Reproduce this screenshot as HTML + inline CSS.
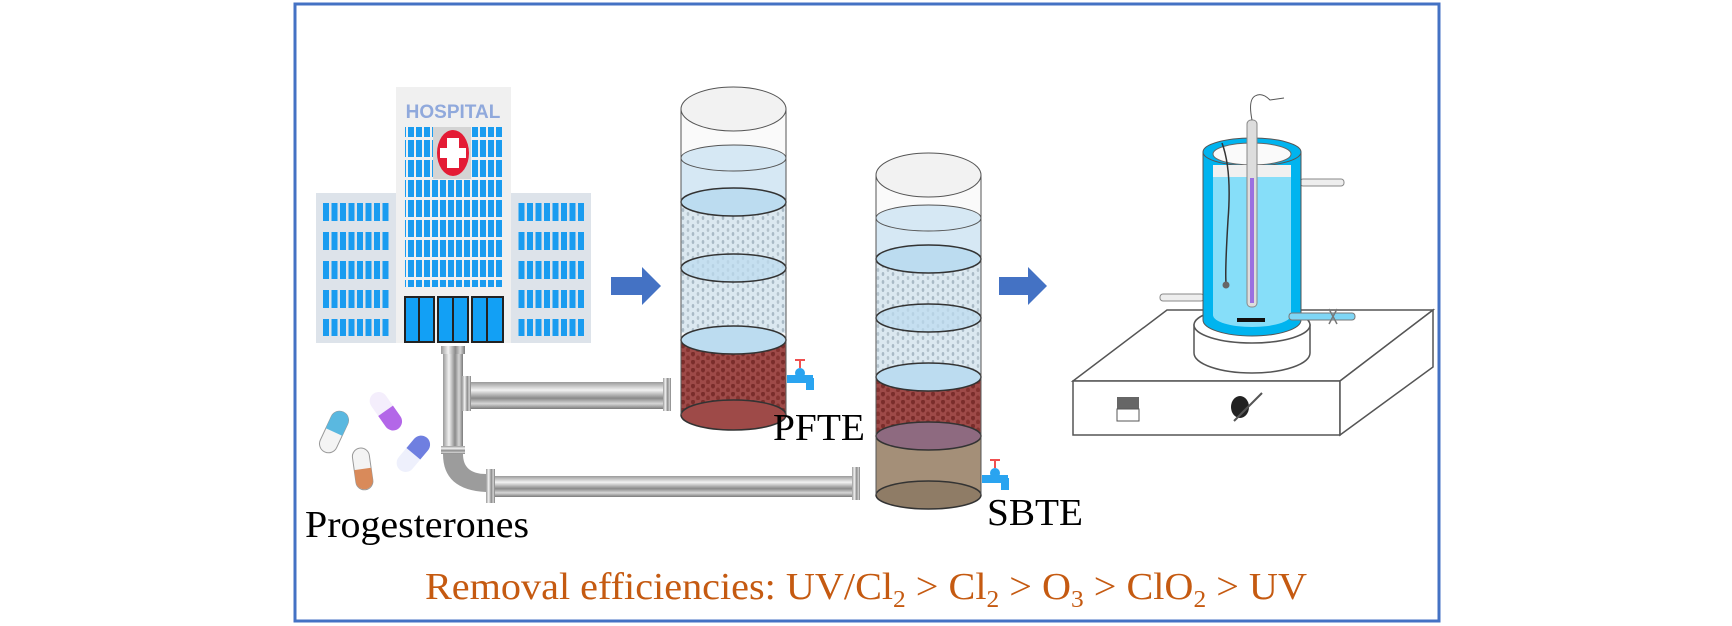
<!DOCTYPE html>
<html><head><meta charset="utf-8"><style>
html,body{margin:0;padding:0;background:#fff;}
svg{display:block;}
text{font-family:"Liberation Serif",serif;}
</style></head><body>
<svg width="1732" height="626" viewBox="0 0 1732 626" xmlns="http://www.w3.org/2000/svg">
<defs>
<pattern id="dots" width="10" height="8" patternUnits="userSpaceOnUse">
<rect width="10" height="8" fill="#dbe8f0"/>
<ellipse cx="3" cy="2" rx="1.3" ry="2" fill="#a9bac6"/><ellipse cx="8" cy="6" rx="1.3" ry="2" fill="#b4c3cd"/>
</pattern>
<pattern id="red" width="10" height="8" patternUnits="userSpaceOnUse">
<rect width="10" height="8" fill="#9e4a48"/>
<ellipse cx="3" cy="2" rx="2" ry="2.5" fill="#7a2d2b"/><ellipse cx="8" cy="6" rx="2" ry="2.5" fill="#843330"/>
</pattern>
<linearGradient id="pipeH" x1="0" y1="0" x2="0" y2="1">
<stop offset="0" stop-color="#9a9a9a"/><stop offset="0.3" stop-color="#f2f2f2"/><stop offset="0.6" stop-color="#8a8a8a"/><stop offset="0.8" stop-color="#d6d6d6"/><stop offset="1" stop-color="#7a7a7a"/>
</linearGradient>
<linearGradient id="pipeV" x1="0" y1="0" x2="1" y2="0">
<stop offset="0" stop-color="#9a9a9a"/><stop offset="0.3" stop-color="#f2f2f2"/><stop offset="0.6" stop-color="#8a8a8a"/><stop offset="0.8" stop-color="#d6d6d6"/><stop offset="1" stop-color="#7a7a7a"/>
</linearGradient>
<pattern id="winS" width="8.5" height="29" patternUnits="userSpaceOnUse"><rect x="0" y="0" width="6" height="18" fill="#1a9cf0"/></pattern>
<pattern id="winC" width="8" height="20" patternUnits="userSpaceOnUse"><rect x="0" y="0" width="6" height="17" fill="#1a9cf0"/></pattern>
</defs>
<rect x="295" y="4" width="1144" height="617" fill="none" stroke="#4472c4" stroke-width="3"/>

<!-- Hospital -->
<rect x="316" y="193" width="80" height="150" fill="#dde3ea"/>
<rect x="511" y="193" width="80" height="150" fill="#dde3ea"/>
<rect x="322" y="200" width="68" height="136" fill="url(#winS)"/>
<rect x="517" y="200" width="68" height="136" fill="url(#winS)"/>
<rect x="396" y="87" width="115" height="256" fill="#f0f0f0"/>
<text x="453" y="118" text-anchor="middle" font-family="Liberation Sans" font-weight="bold" font-size="19" fill="#90a9dc" style="font-family:'Liberation Sans',sans-serif">HOSPITAL</text>
<rect x="405" y="127" width="98" height="160" fill="url(#winC)"/>
<rect x="433" y="127" width="38" height="52" fill="#d4d4d4"/>
<ellipse cx="453" cy="153" rx="16" ry="23" fill="#e41b35"/>
<rect x="447" y="138" width="12" height="30" fill="#fff"/><rect x="440" y="148" width="26" height="10" fill="#fff"/>
<g stroke="#222" stroke-width="2" fill="#12a0f5">
<rect x="405" y="297" width="29" height="45"/><rect x="438" y="297" width="30" height="45"/><rect x="472" y="297" width="31" height="45"/>
</g>
<g stroke="#222" stroke-width="2"><line x1="419" y1="297" x2="419" y2="342"/><line x1="453" y1="297" x2="453" y2="342"/><line x1="487" y1="297" x2="487" y2="342"/></g>

<!-- arrows -->
<path d="M611 277 H642 V267 L661 286 L642 305 V295 H611 Z" fill="#4472c4"/>
<path d="M999 277 H1028 V267 L1047 286 L1028 305 V295 H999 Z" fill="#4472c4"/>

<!-- pipes -->
<rect x="441" y="346" width="24" height="8" fill="url(#pipeV)"/>
<rect x="443" y="354" width="20" height="92" fill="url(#pipeV)"/>
<rect x="441" y="446" width="24" height="8" fill="url(#pipeH)"/>
<path d="M443 454 Q443 490 486 492 L486 474 Q463 474 463 454 Z" fill="#9c9c9c"/>
<rect x="466" y="382" width="205" height="27" fill="url(#pipeH)"/>
<rect x="462" y="376" width="9" height="35" fill="url(#pipeV)"/>
<rect x="663" y="378" width="8" height="33" fill="url(#pipeV)"/>
<rect x="486" y="476" width="374" height="21" fill="url(#pipeH)"/>
<rect x="486" y="469" width="9" height="34" fill="url(#pipeV)"/>
<rect x="852" y="467" width="8" height="33" fill="url(#pipeV)"/>

<!-- pills -->
<g transform="rotate(25 334 432)"><rect x="325" y="410" width="18" height="44" rx="9" fill="#f4f4f4" stroke="#999"/><path d="M325 432 V419 A9 9 0 0 1 343 419 V432 Z" fill="#5ab8e0"/></g>
<g transform="rotate(-35 385 410)"><rect x="376" y="390" width="18" height="42" rx="9" fill="#f4eefc"/><path d="M376 411 V424 A9 9 0 0 0 394 424 V411 Z" fill="#b367e8"/></g>
<g transform="rotate(-8 362 468)"><rect x="354" y="448" width="17" height="42" rx="8.5" fill="#f4f4f4" stroke="#999"/><path d="M354 469 V481 A8.5 8.5 0 0 0 371 481 V469 Z" fill="#d98a5a"/></g>
<g transform="rotate(40 414 453)"><rect x="405" y="433" width="18" height="42" rx="9" fill="#eef0fc"/><path d="M405 454 V442 A9 9 0 0 1 423 442 V454 Z" fill="#6f7fe0"/></g>

<!-- Column 1 -->
<g stroke="#333" stroke-width="1.5">
<rect x="681" y="109" width="105" height="306" fill="#fafafa" stroke="#777" stroke-width="1"/>
<rect x="681" y="158" width="105" height="44" fill="#d6e8f4" stroke="none"/>
<rect x="681" y="202" width="105" height="131" fill="url(#dots)" stroke="none"/>
<rect x="681" y="340" width="105" height="75" fill="url(#red)" stroke="none"/>
<ellipse cx="733.5" cy="415" rx="52.5" ry="15" fill="#9e4a48"/>
<ellipse cx="733.5" cy="340" rx="52.5" ry="14" fill="#bcdcf0"/>
<ellipse cx="733.5" cy="268" rx="52.5" ry="14" fill="#bcdcf0" fill-opacity="0.7"/>
<ellipse cx="733.5" cy="202" rx="52.5" ry="14" fill="#bcdcf0"/>
<ellipse cx="733.5" cy="158" rx="52.5" ry="13" fill="#d6e8f4" stroke="#555" stroke-width="1"/>
<ellipse cx="733.5" cy="109" rx="52.5" ry="22" fill="#f2f2f2" stroke="#555" stroke-width="1"/>
<line x1="681" y1="109" x2="681" y2="415" stroke="#555" stroke-width="1"/><line x1="786" y1="109" x2="786" y2="415" stroke="#555" stroke-width="1"/>
</g>
<g fill="#2aa4f0"><rect x="787" y="375" width="26" height="8"/><circle cx="800" cy="373" r="5"/><rect x="806" y="378" width="8" height="12"/></g>
<path d="M800 360 V368 M795 360 H805" stroke="#f05050" stroke-width="2"/>
<text x="773" y="440" font-size="38" textLength="92" lengthAdjust="spacingAndGlyphs">PFTE</text>

<!-- Column 2 -->
<g stroke="#333" stroke-width="1.5">
<rect x="876" y="175" width="105" height="320" fill="#fafafa" stroke="none"/>
<rect x="876" y="218" width="105" height="41" fill="#d6e8f4" stroke="none"/>
<rect x="876" y="259" width="105" height="118" fill="url(#dots)" stroke="none"/>
<rect x="876" y="377" width="105" height="59" fill="url(#red)" stroke="none"/>
<rect x="876" y="436" width="105" height="59" fill="#a48f78" stroke="none"/>
<ellipse cx="928.5" cy="495" rx="52.5" ry="14" fill="#8f7c66"/>
<ellipse cx="928.5" cy="436" rx="52.5" ry="14" fill="#8e6a80"/>
<ellipse cx="928.5" cy="377" rx="52.5" ry="14" fill="#bcdcf0"/>
<ellipse cx="928.5" cy="318" rx="52.5" ry="14" fill="#bcdcf0" fill-opacity="0.7"/>
<ellipse cx="928.5" cy="259" rx="52.5" ry="14" fill="#bcdcf0"/>
<ellipse cx="928.5" cy="218" rx="52.5" ry="13" fill="#d6e8f4" stroke="#555" stroke-width="1"/>
<ellipse cx="928.5" cy="175" rx="52.5" ry="22" fill="#f2f2f2" stroke="#555" stroke-width="1"/>
<line x1="876" y1="175" x2="876" y2="495" stroke="#555" stroke-width="1"/><line x1="981" y1="175" x2="981" y2="495" stroke="#555" stroke-width="1"/>
</g>
<g fill="#2aa4f0"><rect x="982" y="475" width="26" height="8"/><circle cx="995" cy="473" r="5"/><rect x="1001" y="478" width="8" height="12"/></g>
<path d="M995 460 V468 M990 460 H1000" stroke="#f05050" stroke-width="2"/>
<text x="987" y="525" font-size="38" textLength="96" lengthAdjust="spacingAndGlyphs">SBTE</text>

<text x="305" y="537" font-size="38" textLength="224" lengthAdjust="spacingAndGlyphs">Progesterones</text>

<!-- Stirrer -->
<g stroke="#555" stroke-width="1.5" fill="#fff">
<path d="M1167 310 H1433 L1340 381 H1073 Z"/>
<rect x="1073" y="381" width="267" height="54"/>
<path d="M1340 381 L1433 310 V367 L1340 435 Z"/>
<path d="M1194 325 V353 A58 20 0 0 0 1310 353 V325 Z"/>
<ellipse cx="1252" cy="325" rx="58" ry="18"/>
</g>
<rect x="1117" y="397" width="22" height="12" fill="#666"/><rect x="1117" y="409" width="22" height="12" fill="#fff" stroke="#555"/>
<ellipse cx="1240" cy="407" rx="9" ry="11" fill="#222"/><line x1="1234" y1="421" x2="1262" y2="393" stroke="#555" stroke-width="2"/>
<!-- side ports -->
<rect x="1160" y="294" width="44" height="7" rx="3" fill="#eee" stroke="#888"/>
<rect x="1300" y="179" width="44" height="7" rx="3" fill="#eee" stroke="#888"/>
<!-- jacket -->
<path d="M1203 152 V320 A49 16 0 0 0 1301 320 V152 Z" fill="#00b4ef" stroke="#555"/>
<path d="M1213 177 V315 A39 12 0 0 0 1291 315 V177 Z" fill="#86def9"/>
<ellipse cx="1252" cy="152" rx="49" ry="14" fill="#00b4ef" stroke="#555"/>
<ellipse cx="1252" cy="154" rx="39" ry="11" fill="#fafafa" stroke="#666"/>
<rect x="1213" y="165" width="78" height="12" fill="#f0f0f0"/>
<path d="M1222 143 Q1232 170 1228 220 Q1225 270 1226 283" stroke="#333" stroke-width="1.5" fill="none"/>
<circle cx="1226" cy="285" r="3.5" fill="#666"/>
<rect x="1247" y="120" width="10" height="187" rx="4" fill="#ddd" stroke="#888"/>
<rect x="1250" y="178" width="4" height="125" fill="#9a70e0"/>
<path d="M1252 120 Q1248 100 1255 96 Q1262 92 1270 100 L1284 98" stroke="#555" fill="none"/>
<rect x="1237" y="318" width="28" height="4" fill="#111"/>
<rect x="1289" y="313" width="66" height="7" rx="3" fill="#7fd6f5" stroke="#777"/>
<path d="M1329 309 L1337 324 M1337 309 L1329 324" stroke="#777" stroke-width="1.5"/>

<text x="425" y="599" font-size="38" fill="#c55a11" textLength="882" lengthAdjust="spacingAndGlyphs">Removal efficiencies: UV/Cl<tspan font-size="24" dy="8">2</tspan><tspan dy="-8"> &gt; Cl</tspan><tspan font-size="24" dy="8">2</tspan><tspan dy="-8"> &gt; O</tspan><tspan font-size="24" dy="8">3</tspan><tspan dy="-8"> &gt; ClO</tspan><tspan font-size="24" dy="8">2</tspan><tspan dy="-8"> &gt; UV</tspan></text>
</svg>
</body></html>
